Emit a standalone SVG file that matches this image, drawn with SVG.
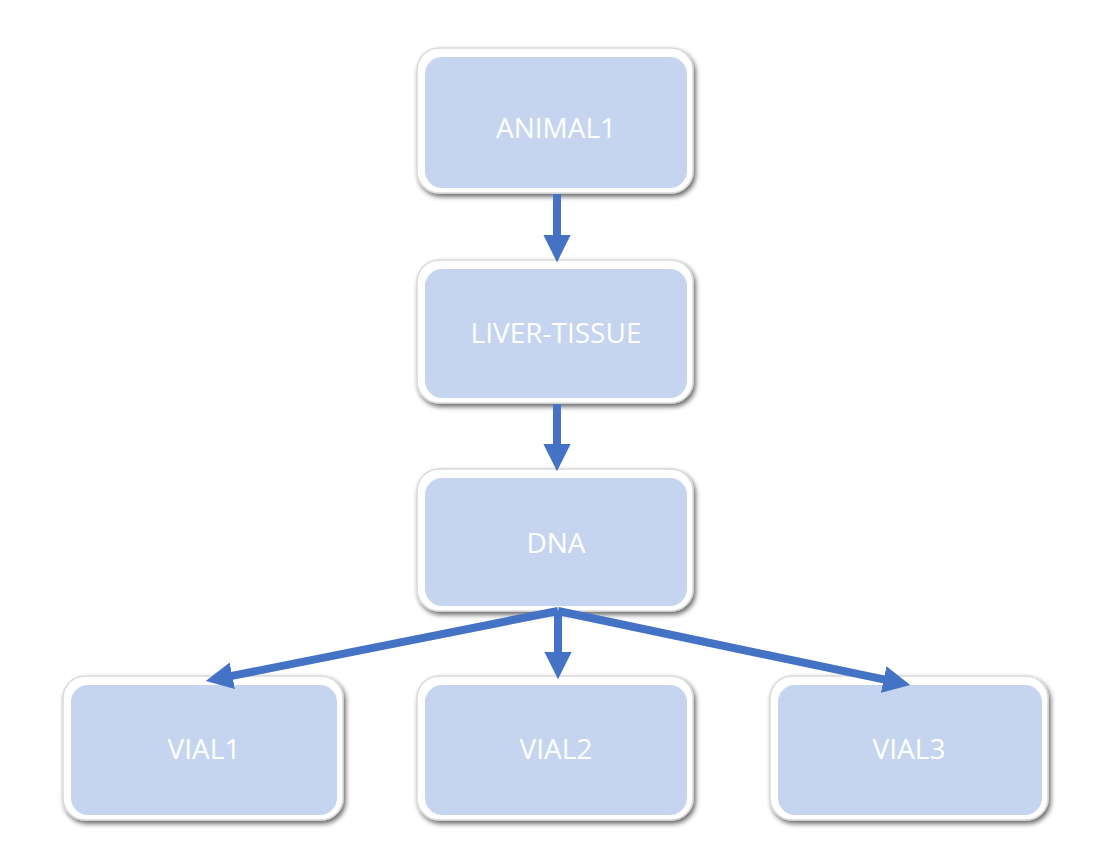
<svg xmlns="http://www.w3.org/2000/svg" width="1110" height="856" viewBox="0 0 1110 856">
<style>
.frame{fill:#ffffff;stroke:#d9d9d9;stroke-width:1.5}
.inner{fill:#c5d5f0}
.lbl{font-family:"Open Sans","Liberation Sans",sans-serif;font-size:28px;fill:#ffffff;text-anchor:middle}
.conn{stroke:#4472c4;stroke-width:8;fill:none}
</style>
<defs>
<filter id="sh" x="-10%" y="-10%" width="125%" height="130%">
<feGaussianBlur in="SourceAlpha" stdDeviation="2.5"/>
<feOffset dx="2" dy="3" result="b"/>
<feComponentTransfer><feFuncA type="linear" slope="0.6"/></feComponentTransfer>
<feMerge><feMergeNode/><feMergeNode in="SourceGraphic"/></feMerge>
</filter>
<marker id="ah" viewBox="0 0 10 10" refX="4" refY="5" markerWidth="3.4" markerHeight="3.4" orient="auto" markerUnits="strokeWidth">
<path d="M0,0 L10,5 L0,10 z" fill="#4472c4"/>
</marker>
</defs>
<g id="animal1">
<rect class="frame" x="417" y="48" width="276" height="145" rx="22" filter="url(#sh)"/>
<rect class="inner" x="425" y="57" width="262" height="131" rx="17"/>
<text class="lbl" x="556" y="138">ANIMAL1</text>
</g>
<g id="liver-tissue">
<rect class="frame" x="417" y="260" width="276" height="143" rx="22" filter="url(#sh)"/>
<rect class="inner" x="425" y="269" width="262" height="129" rx="17"/>
<text class="lbl" x="556" y="343">LIVER-TISSUE</text>
</g>
<g id="dna">
<rect class="frame" x="417" y="469" width="276" height="142" rx="22" filter="url(#sh)"/>
<rect class="inner" x="425" y="478" width="262" height="128" rx="17"/>
<text class="lbl" x="556" y="553">DNA</text>
</g>
<g id="vial1">
<rect class="frame" x="63" y="676" width="280" height="144" rx="22" filter="url(#sh)"/>
<rect class="inner" x="71" y="685" width="266" height="130" rx="17"/>
<text class="lbl" x="204" y="759">VIAL1</text>
</g>
<g id="vial2">
<rect class="frame" x="417" y="676" width="276" height="144" rx="22" filter="url(#sh)"/>
<rect class="inner" x="425" y="685" width="262" height="130" rx="17"/>
<text class="lbl" x="556" y="759">VIAL2</text>
</g>
<g id="vial3">
<rect class="frame" x="770" y="676" width="278" height="144" rx="22" filter="url(#sh)"/>
<rect class="inner" x="778" y="685" width="264" height="130" rx="17"/>
<text class="lbl" x="909" y="759">VIAL3</text>
</g>
<g id="connectors">
<line class="conn" x1="557" y1="194" x2="557" y2="246" marker-end="url(#ah)"/>
<line class="conn" x1="557" y1="404" x2="557" y2="455" marker-end="url(#ah)"/>
<line class="conn" x1="558" y1="611" x2="558" y2="663" marker-end="url(#ah)"/>
<line class="conn" x1="558" y1="611" x2="221.7" y2="677.9" marker-end="url(#ah)"/>
<line class="conn" x1="558" y1="611" x2="894.3" y2="681.7" marker-end="url(#ah)"/>
</g>
</svg>
